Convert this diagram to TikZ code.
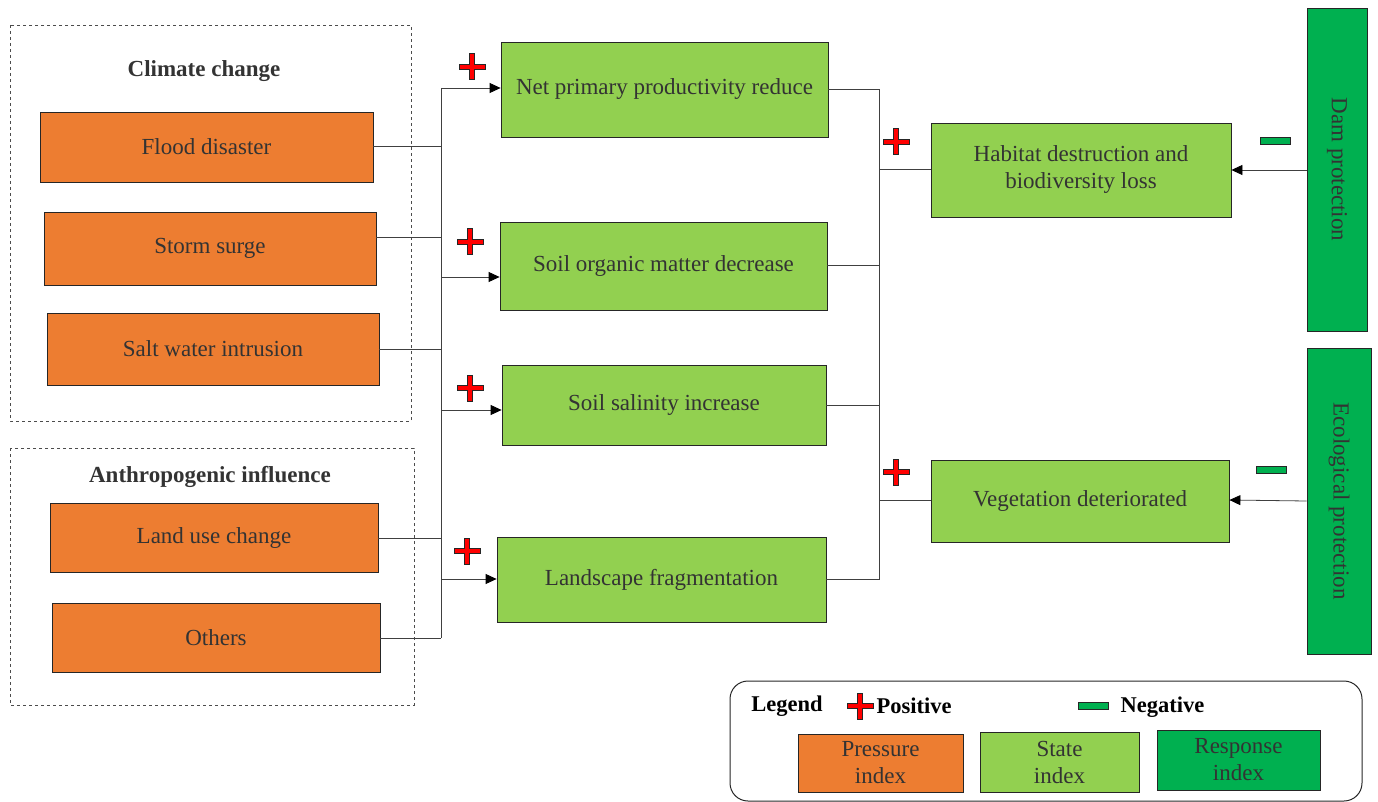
\documentclass[tikz,border=0pt]{standalone}
\usepackage{fontspec}
\setmainfont{Liberation Serif}
\usetikzlibrary{arrows.meta}
\definecolor{porange}{HTML}{ED7D31}
\definecolor{sgreen}{HTML}{92D050}
\definecolor{rgreen}{HTML}{00B050}
\definecolor{txt}{HTML}{333333}
\tikzset{
  box/.style={draw=black!85, line width=0.8pt, text=txt, font=\fontsize{23}{27}\selectfont, align=center, inner sep=0pt},
  pbox/.style={box, fill=porange},
  sbox/.style={box, fill=sgreen},
  rbox/.style={box, fill=rgreen},
  grp/.style={draw=black!70, dashed, line width=0.6pt},
  title/.style={font=\bfseries\fontsize{23}{27}\selectfont, text=txt},
  conn/.style={draw=black!75, line width=0.8pt},
  arr/.style={conn, -{Triangle[length=11pt,width=10pt,fill=black,color=black]}},
  plusmark/.pic={\draw[fill=red, line width=1pt, draw=black!85]
      (-2.5,-13)--(2.5,-13)--(2.5,-2.5)--(13,-2.5)--(13,2.5)--(2.5,2.5)--(2.5,13)--(-2.5,13)--(-2.5,2.5)--(-13,2.5)--(-13,-2.5)--(-2.5,-2.5)--cycle;},
  minusmark/.pic={\draw[fill=rgreen, line width=1pt, draw=black!85] (-15,-3.5) rectangle (15,3.5);}
}
\begin{document}
\begin{tikzpicture}[x=1pt,y=-1pt]
\useasboundingbox (0,0) rectangle (1378,802);

% groups
\draw[grp] (10,25) rectangle (411,421);
\node[title] (tcc) at (204,71) {Climate change};
\draw[grp] (10,448) rectangle (414,705);
\node[title] (tai) at (210,477) {Anthropogenic influence};

% pressure boxes
\node[pbox, minimum width=333pt, minimum height=70pt] (flood) at (206.5,147) {Flood disaster};
\node[pbox, minimum width=332pt, minimum height=73pt] (storm) at (210,248.5) {Storm surge};
\node[pbox, minimum width=332pt, minimum height=72pt] (salt) at (213,349) {Salt water intrusion};
\node[pbox, minimum width=328pt, minimum height=69pt] (land) at (214,537.5) {Land use change};
\node[pbox, minimum width=328pt, minimum height=69pt] (others) at (216,637.5) {Others};

% state boxes
\node[sbox, minimum width=327pt, minimum height=95pt] (npp) at (664.5,89.5) {Net primary productivity reduce};
\node[sbox, minimum width=327pt, minimum height=88pt] (som) at (663.5,266) {Soil organic matter decrease};
\node[sbox, minimum width=324pt, minimum height=80pt] (sal) at (664,405) {Soil salinity increase};
\node[sbox, minimum width=329pt, minimum height=85pt] (lf) at (661.5,579.5) {Landscape fragmentation};
\node[sbox, minimum width=300pt, minimum height=94pt] (hab) at (1081,170) {Habitat destruction and\\biodiversity loss};
\node[sbox, minimum width=298pt, minimum height=82pt] (veg) at (1080,501) {Vegetation deteriorated};

% response boxes
\node[rbox, minimum width=60pt, minimum height=323pt] (dam) at (1337,169.5) {};
\node[rotate=-90, text=txt, font=\fontsize{23}{27}\selectfont] (damt) at (dam.center) {Dam protection};
\node[rbox, minimum width=64pt, minimum height=306pt] (eco) at (1339,501) {};
\node[rotate=-90, text=txt, font=\fontsize{23}{27}\selectfont] (ecot) at (eco.center) {Ecological protection};

% left bus
\coordinate (bt) at (441,88);
\coordinate (bb) at (441,638);
\draw[conn] (bt) -- (bb);
\draw[conn] (flood.east |- 0,146) -- (441,146);
\draw[conn] (storm.east |- 0,237) -- (441,237);
\draw[conn] (salt.east |- 0,349) -- (441,349);
\draw[conn] (land.east |- 0,538) -- (441,538);
\draw[conn] (others.east |- 0,638) -- (bb);
\draw[arr] (bt) -- (npp.west |- bt);
\draw[arr] (441,277) -- (som.west |- 0,277);
\draw[arr] (441,410) -- (sal.west |- 0,410);
\draw[arr] (441,579) -- (lf.west |- 0,579);

% right bus
\draw[conn] (npp.east |- 0,89) -- (879,89) -- (879,579) -- (lf.east |- 0,579);
\draw[conn] (som.east |- 0,265) -- (879,265);
\draw[conn] (sal.east |- 0,405) -- (879,405);
\draw[conn] (879,169) -- (hab.west |- 0,169);
\draw[conn] (879,500) -- (veg.west |- 0,500);

% response arrows
\draw[arr] (dam.west |- 0,170) -- (hab.east |- 0,170);
\draw[arr] (eco.west |- 0,501) -- (veg.east |- 0,500);

% signs
\pic at (472,67) {plusmark};
\pic at (470,242) {plusmark};
\pic at (470,388) {plusmark};
\pic at (467,551) {plusmark};
\pic at (896,142) {plusmark};
\pic at (896,472) {plusmark};
\pic at (1275,141) {minusmark};
\pic at (1271,470) {minusmark};

% legend
\draw[line width=1pt, draw=black!85, rounded corners=18pt] (730,681) rectangle (1362,801);
\node[title, text=black, font=\bfseries\fontsize{22.5}{27}\selectfont] (lg) at (787,706) {Legend};
\pic at (860,706) {plusmark};
\node[title, text=black, anchor=west, font=\bfseries\fontsize{22.5}{27}\selectfont] (lpos) at (873,706) {Positive};
\pic at (1093,706) {minusmark};
\node[title, text=black, anchor=west, font=\bfseries\fontsize{22.5}{27}\selectfont] (lneg) at (1117,707) {Negative};
\node[pbox, minimum width=165pt, minimum height=58pt] (lp) at (880.5,763) {Pressure\\index};
\node[sbox, minimum width=159pt, minimum height=60pt] (ls) at (1059.5,762) {State\\index};
\node[rbox, minimum width=163pt, minimum height=60pt] (lr) at (1238.5,760) {Response\\index};
\end{tikzpicture}
\end{document}
